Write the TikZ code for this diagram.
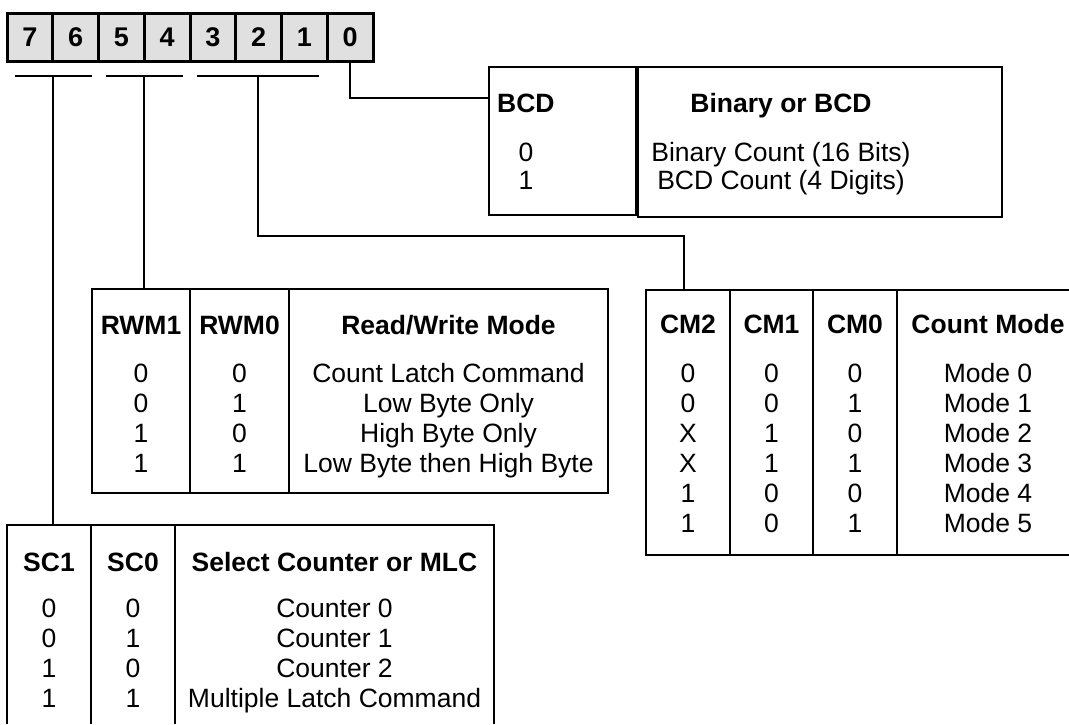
\documentclass[tikz,border=0pt]{standalone}
\usepackage{fontspec}
\setmainfont{Liberation Sans}
\usetikzlibrary{calc}
\definecolor{cellgray}{RGB}{224,224,224}
\begin{document}
\begin{tikzpicture}[x=1pt,y=-1pt,
  txt/.style={font=\fontsize{26.5}{30}\selectfont, inner sep=0, anchor=base},
  hd/.style={font=\fontsize{26.5}{30}\selectfont\bfseries, inner sep=0, anchor=base},
  frame/.style={line width=2.4pt},
  conn/.style={line width=2pt},
  bitcell/.style={draw, line width=3pt, fill=cellgray, minimum width=45.75, minimum height=48, inner sep=0, font=\fontsize{27}{30}\selectfont\bfseries}]
\useasboundingbox[fill=white] (0,0) rectangle (1069,724);

% bit register
\foreach \b [count=\i from 0] in {7,6,5,4,3,2,1,0}
  \node[bitcell] (b\b) at ({29.875+45.75*\i},37) {\b};

% group bars
\coordinate (bar1l) at (15,76);  \coordinate (bar1r) at (92,76);  \coordinate (bar1c) at (53,76);
\coordinate (bar2l) at (106,76); \coordinate (bar2r) at (183,76); \coordinate (bar2c) at (144,76);
\coordinate (bar3l) at (197,76); \coordinate (bar3r) at (319,76); \coordinate (bar3c) at (258,76);
\draw[conn] (bar1l) -- (bar1r);
\draw[conn] (bar2l) -- (bar2r);
\draw[conn] (bar3l) -- (bar3r);

% BCD boxes
\draw[frame] (489,67) rectangle (636,215);
\draw[frame] (638,67) rectangle (1002,217);
\coordinate (bcdin) at (489,98);
\node[hd, anchor=base west] (bcdh) at (497,112) {BCD};
\node[txt] (bcd0) at (526,161) {0};
\node[txt] (bcd1) at (526,189) {1};
\node[hd] (binh) at (781,112) {Binary or BCD};
\node[txt] (bin0) at (781,161) {Binary Count (16 Bits)};
\node[txt] (bin1) at (781,189) {BCD Count (4 Digits)};

% RWM table
\draw[frame] (92,289) rectangle (608,493);
\draw[frame] (190,289) -- (190,493);
\draw[frame] (289,289) -- (289,493);
\coordinate (rwmtop) at (144,289);
\node[hd] (rwm1h) at (141,334) {RWM1};
\node[hd] (rwm0h) at (239.5,334) {RWM0};
\node[hd] (rwmdh) at (448.5,334) {Read/Write Mode};
\foreach \a/\b/\t [count=\k from 0] in {0/0/Count Latch Command, 0/1/Low Byte Only, 1/0/High Byte Only, 1/1/Low Byte then High Byte}{
  \node[txt] (rwma\k) at (141,{382+30*\k}) {\a};
  \node[txt] (rwmb\k) at (239.5,{382+30*\k}) {\b};
  \node[txt] (rwmt\k) at (448.5,{382+30*\k}) {\t};
}

% CM table
\draw[frame] (1069,290) -- (646,290) -- (646,555) -- (1069,555);
\draw[frame] (730,290) -- (730,555);
\draw[frame] (813,290) -- (813,555);
\draw[frame] (897,290) -- (897,555);
\coordinate (cmtop) at (684,290);
\coordinate (cmturn) at (684,236);
\node[hd] (cm2h) at (688,333) {CM2};
\node[hd] (cm1h) at (771.5,333) {CM1};
\node[hd] (cm0h) at (855,333) {CM0};
\node[hd] (cmdh) at (988,333) {Count Mode};
\foreach \a/\b/\c/\t [count=\k from 0] in {0/0/0/Mode 0, 0/0/1/Mode 1, X/1/0/Mode 2, X/1/1/Mode 3, 1/0/0/Mode 4, 1/0/1/Mode 5}{
  \node[txt] (cma\k) at (688,{382+30*\k}) {\a};
  \node[txt] (cmb\k) at (771.5,{382+30*\k}) {\b};
  \node[txt] (cmc\k) at (855,{382+30*\k}) {\c};
  \node[txt] (cmt\k) at (988,{382+30*\k}) {\t};
}

% SC table
\draw[frame] (7,724) -- (7,525) -- (494,525) -- (494,724);
\draw[frame] (91,525) -- (91,724);
\draw[frame] (175,525) -- (175,724);
\coordinate (sctop) at (53,525);
\node[hd] (sc1h) at (49,571) {SC1};
\node[hd] (sc0h) at (133,571) {SC0};
\node[hd] (scdh) at (334.5,571) {Select Counter or MLC};
\foreach \a/\b/\t [count=\k from 0] in {0/0/Counter 0, 0/1/Counter 1, 1/0/Counter 2, 1/1/Multiple Latch Command}{
  \node[txt] (sca\k) at (49,{617+30*\k}) {\a};
  \node[txt] (scb\k) at (133,{617+30*\k}) {\b};
  \node[txt] (sct\k) at (334.5,{617+30*\k}) {\t};
}

% connectors
\draw[conn] (b0.south) |- (bcdin);
\draw[conn] (bar1c) -- (sctop);
\draw[conn] (bar2c) -- (rwmtop);
\draw[conn] (bar3c) |- (cmturn) -- (cmtop);
\end{tikzpicture}
\end{document}
